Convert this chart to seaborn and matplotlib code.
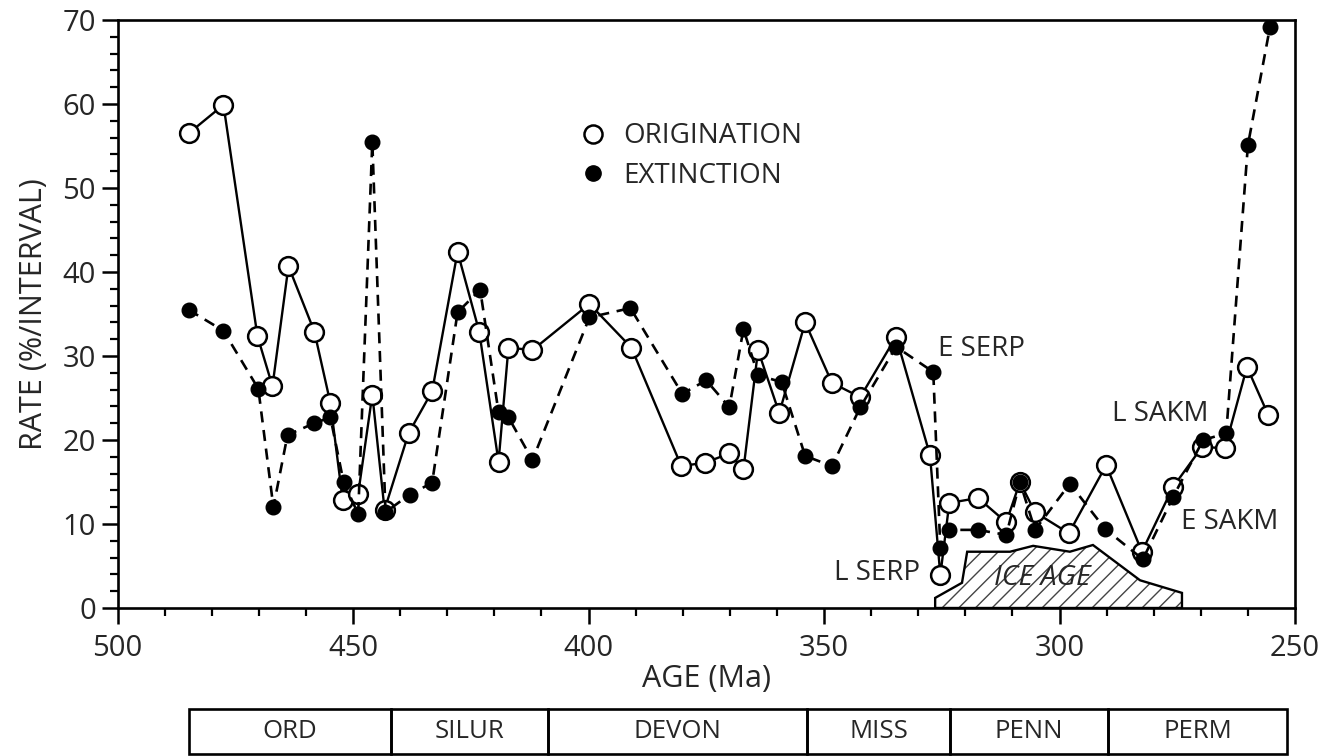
import matplotlib
matplotlib.use("Agg")
import matplotlib.pyplot as plt
import seaborn as sns
import pandas as pd
from matplotlib.lines import Line2D

# ---------------- data ----------------
orig_age = [484.9, 477.5, 470.3, 467.1, 463.7, 458.2, 454.8, 452.2, 448.9, 445.9,
            443.3, 438.2, 433.2, 427.8, 423.2, 419.1, 417.0, 411.9, 399.8, 390.9,
            380.3, 375.2, 370.1, 367.1, 364.0, 359.5, 354.0, 348.3, 342.3, 334.7,
            327.5, 325.3, 323.4, 317.3, 311.3, 308.4, 305.2, 298.0, 290.1, 282.5,
            275.9, 269.7, 264.9, 260.2, 255.7]
orig_rate = [56.5, 59.9, 32.4, 26.4, 40.7, 32.9, 24.4, 12.9, 13.6, 25.4,
             11.7, 20.8, 25.8, 42.4, 32.9, 17.4, 31.0, 30.7, 36.2, 31.0,
             16.9, 17.3, 18.4, 16.5, 30.7, 23.2, 34.0, 26.8, 25.1, 32.3,
             18.2, 3.9, 12.5, 13.1, 10.2, 15.0, 11.4, 8.9, 17.0, 6.7,
             14.4, 19.2, 19.0, 28.7, 23.0]

ext_age = [484.9, 477.5, 470.1, 466.9, 463.9, 458.2, 454.8, 452.0, 448.9, 445.9,
           443.1, 438.0, 433.2, 427.8, 423.0, 419.1, 417.0, 411.9, 399.8, 391.1,
           380.1, 375.0, 370.1, 367.1, 364.0, 359.0, 354.0, 348.3, 342.3, 334.7,
           326.8, 325.3, 323.4, 317.3, 311.3, 308.4, 305.2, 297.8, 290.3, 282.3,
           275.9, 269.5, 264.6, 260.0, 255.3]
ext_rate = [35.5, 33.0, 26.1, 12.0, 20.6, 22.0, 22.7, 15.0, 11.2, 55.5,
            11.4, 13.5, 14.9, 35.2, 37.9, 23.3, 22.7, 17.6, 34.6, 35.7,
            25.5, 27.1, 23.9, 33.2, 27.7, 26.9, 18.1, 16.9, 23.9, 31.1,
            28.1, 7.1, 9.3, 9.3, 8.7, 15.0, 9.3, 14.8, 9.4, 5.8,
            13.2, 20.0, 20.8, 55.1, 69.2]

ice_age_ma = [326.4, 326.4, 320.7, 319.6, 310.5, 305.6, 297.8, 292.9, 282.9, 274.0, 274.0]
ice_age_rate = [0.0, 1.2, 3.0, 6.7, 6.7, 7.4, 6.7, 7.5, 3.3, 1.8, 0.0]

period_names = ["ORD", "SILUR", "DEVON", "MISS", "PENN", "PERM"]
period_edges = [484.8, 441.9, 408.6, 353.6, 323.2, 289.7, 251.7]

x_ticks = [500, 450, 400, 350, 300, 250]
y_ticks = [0, 10, 20, 30, 40, 50, 60, 70]

# ---------------- style ----------------
sns.set_theme(style="ticks")
plt.rcParams['font.family'] = ['Open Sans', 'DejaVu Sans']
plt.rcParams['hatch.linewidth'] = 1.0

W, H = 1319, 756
fig = plt.figure(figsize=(W / 100, H / 100), dpi=100)
ax = fig.add_axes([117.5 / W, 1 - 608 / H, 1177.5 / W, 588 / H])

# ice age polygon: hatch then outline
ax.fill(ice_age_ma, ice_age_rate, facecolor='white', edgecolor='#444444',
        hatch='//', lw=0, zorder=1)
ax.fill(ice_age_ma, ice_age_rate, facecolor='none', edgecolor='black',
        lw=1.7, zorder=1.5)

df_o = pd.DataFrame({'age': orig_age, 'rate': orig_rate})
df_e = pd.DataFrame({'age': ext_age, 'rate': ext_rate})

sns.lineplot(data=df_o, x='age', y='rate', ax=ax, sort=False, estimator=None,
             color='black', lw=1.7, marker='o', markersize=13.5,
             markerfacecolor='white', markeredgecolor='black',
             markeredgewidth=1.8, legend=False, zorder=3)
sns.lineplot(data=df_e, x='age', y='rate', ax=ax, sort=False, estimator=None,
             color='black', lw=1.9, marker='o', markersize=10.5,
             markerfacecolor='black', markeredgecolor='black',
             markeredgewidth=1.0, legend=False, zorder=4)
ax.lines[-1].set_linestyle((0, (4.2, 2.9)))

ax.set_xlim(500, 250)
ax.set_ylim(0, 70)
ax.set_xticks(x_ticks)
ax.set_xticks(list(range(500, 249, -10)), minor=True)
ax.set_yticks(y_ticks)
ax.set_yticks(list(range(0, 71, 2)), minor=True)
ax.tick_params(which='both', direction='out', top=False, right=False,
               bottom=True, left=True, color='black')
ax.tick_params(which='major', length=11.5, width=1.8, labelsize=21)
ax.tick_params(axis='x', which='major', pad=7)
ax.tick_params(axis='y', which='major', pad=4)
ax.tick_params(which='minor', length=6, width=1.6)
for s in ax.spines.values():
    s.set_linewidth(1.9)
    s.set_color('black')

ax.set_xlabel('AGE (Ma)', fontsize=22)
ax.set_ylabel('RATE (%/INTERVAL)', fontsize=22)
ax.xaxis.set_label_coords(0.5, -0.095)
ax.yaxis.set_label_coords(-0.058, 0.5)

# annotations
ax.text(325.7, 30.8, 'E SERP', fontsize=20, ha='left', va='center')
ax.text(329.6, 4.2, 'L SERP', fontsize=20, ha='right', va='center')
ax.text(288.9, 23.1, 'L SAKM', fontsize=20, ha='left', va='center')
ax.text(274.3, 10.2, 'E SAKM', fontsize=20, ha='left', va='center')
ax.text(303.6, 3.6, 'ICE AGE', fontsize=20.5, ha='center', va='center',
        style='italic', zorder=2)

# legend
handles = [
    Line2D([], [], ls='none', marker='o', markersize=13, markerfacecolor='white',
           markeredgecolor='black', markeredgewidth=1.8, label='ORIGINATION'),
    Line2D([], [], ls='none', marker='o', markersize=11, markerfacecolor='black',
           markeredgecolor='black', label='EXTINCTION'),
]
ax.legend(handles=handles, loc='upper left', bbox_to_anchor=(0.392, 0.826),
          frameon=False, fontsize=20, handlelength=1.0, handletextpad=0.6,
          labelspacing=0.42, borderpad=0, borderaxespad=0)

# period bar
bax = fig.add_axes([117.5 / W, 1 - 754 / H, 1177.5 / W, 45 / H])
bax.set_xlim(500, 250)
bax.set_ylim(0, 1)
bax.axis('off')
centers = [(period_edges[i] + period_edges[i + 1]) / 2 for i in range(len(period_names))]
widths = [period_edges[i] - period_edges[i + 1] for i in range(len(period_names))]
bax.bar(centers, [1] * len(centers), width=widths, bottom=0, fill=False,
        edgecolor='black', linewidth=1.9, clip_on=False)
for c, name in zip(centers, period_names):
    bax.text(c, 0.5, name, ha='center', va='center', fontsize=18.5)

fig.savefig('out.png', dpi=100)
